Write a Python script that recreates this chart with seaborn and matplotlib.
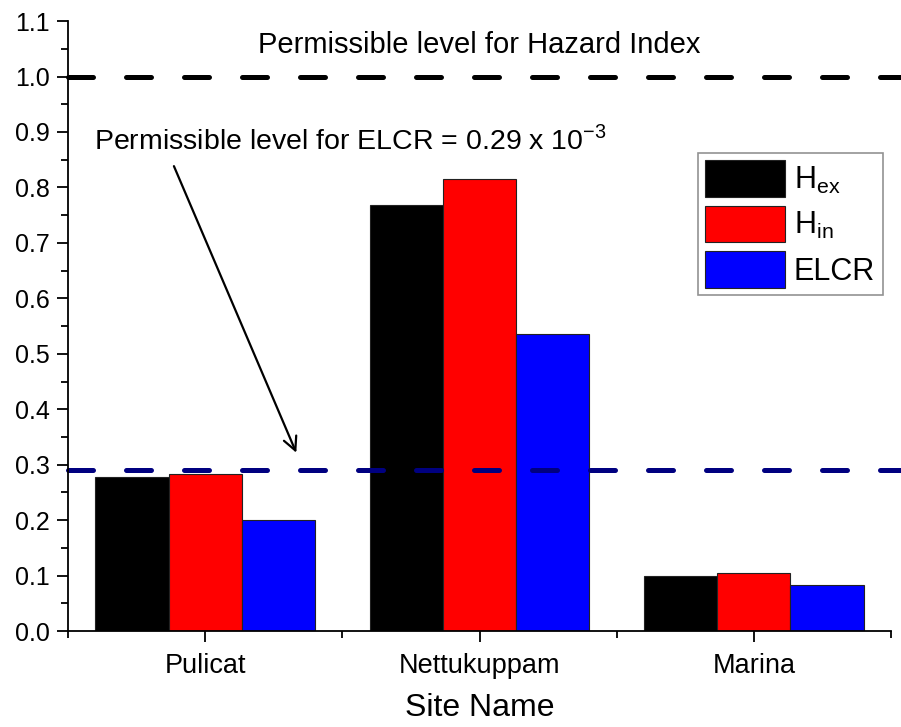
"""
Hazard indices (Hex, Hin) and ELCR per site, with permissible levels.
"""

import matplotlib
matplotlib.use('Agg')

import matplotlib.pyplot as plt
import matplotlib.ticker as mticker
import pandas as pd
import seaborn as sns

# Dados
sites = ['Pulicat', 'Nettukuppam', 'Marina']
series = [r'H$_{\rm ex}$', r'H$_{\rm in}$', 'ELCR']
hex_vals = [0.278, 0.768, 0.099]
hin_vals = [0.284, 0.816, 0.105]
elcr_vals = [0.200, 0.535, 0.083]
hazard_limit = 1.0
elcr_limit = 0.29

cores = ['#000000', '#ff0000', '#0000ff']

sns.set_theme(style='ticks')
plt.rcParams['font.family'] = ['Liberation Sans', 'DejaVu Sans']
plt.rcParams['mathtext.fontset'] = 'custom'
plt.rcParams['mathtext.rm'] = 'Liberation Sans'
for chave in ['text.color', 'axes.labelcolor', 'xtick.color', 'ytick.color']:
    plt.rcParams[chave] = 'black'

df = pd.DataFrame({
    'site': sites * 3,
    'serie': [series[0]] * 3 + [series[1]] * 3 + [series[2]] * 3,
    'valor': hex_vals + hin_vals + elcr_vals,
})

fig = plt.figure(figsize=(9.01, 7.27), dpi=100)
ax = fig.add_axes([0.0755, 0.132, 0.9135, 0.839])

sns.barplot(data=df, x='site', y='valor', hue='serie', order=sites, hue_order=series,
            palette=cores, width=0.8, edgecolor='#222222', linewidth=0.8,
            saturation=1, ax=ax)

# Linhas de nível permitido
ax.axhline(hazard_limit, xmin=0, xmax=1.013, color='black', lw=3.6,
           ls=(0, (5.0, 6.6)), dash_capstyle='round', clip_on=False)
ax.axhline(elcr_limit, xmin=0, xmax=1.013, color='#000080', lw=3.6,
           ls=(0, (5.0, 6.6)), dash_capstyle='round', clip_on=False)

ax.text(1.0, 1.057, 'Permissible level for Hazard Index', ha='center', va='center',
        fontsize=21)
ax.text(-0.405, 0.885, r'Permissible level for ELCR = 0.29 x 10$^{-3}$', ha='left',
        va='center', fontsize=20.5)
ax.annotate('', xy=(0.336, 0.317), xytext=(-0.118, 0.843),
            arrowprops=dict(arrowstyle='->', color='black', lw=1.6,
                            mutation_scale=24))

ax.set_xlim(-0.5, 2.5)
ax.set_ylim(0, 1.1)
ax.yaxis.set_major_locator(mticker.MultipleLocator(0.1))
ax.yaxis.set_minor_locator(mticker.MultipleLocator(0.05))
ax.yaxis.set_major_formatter(mticker.FormatStrFormatter('%.1f'))
ax.xaxis.set_minor_locator(mticker.FixedLocator([-0.5, 0.5, 1.5, 2.5]))
ax.tick_params(axis='both', which='major', length=8, width=1.3, labelsize=18,
               direction='out', color='black')
ax.tick_params(axis='both', which='minor', length=5, width=1.3, direction='out',
               color='black')
ax.tick_params(axis='y', pad=5)
ax.tick_params(axis='x', pad=8, labelsize=19.5)

sns.despine(ax=ax)
for lado in ['left', 'bottom']:
    ax.spines[lado].set_linewidth(1.3)
    ax.spines[lado].set_color('black')

ax.set_xlabel('Site Name', fontsize=23, labelpad=10)
ax.set_ylabel('')

leg = ax.legend(loc='upper right', bbox_to_anchor=(0.99, 0.784), fontsize=22,
                frameon=True, fancybox=False, edgecolor='#777777',
                handlelength=2.6, handleheight=1.45, handletextpad=0.3,
                labelspacing=0.3, borderpad=0.25, borderaxespad=0)
leg.get_frame().set_linewidth(1.2)

fig.savefig('out.png', dpi=100)
